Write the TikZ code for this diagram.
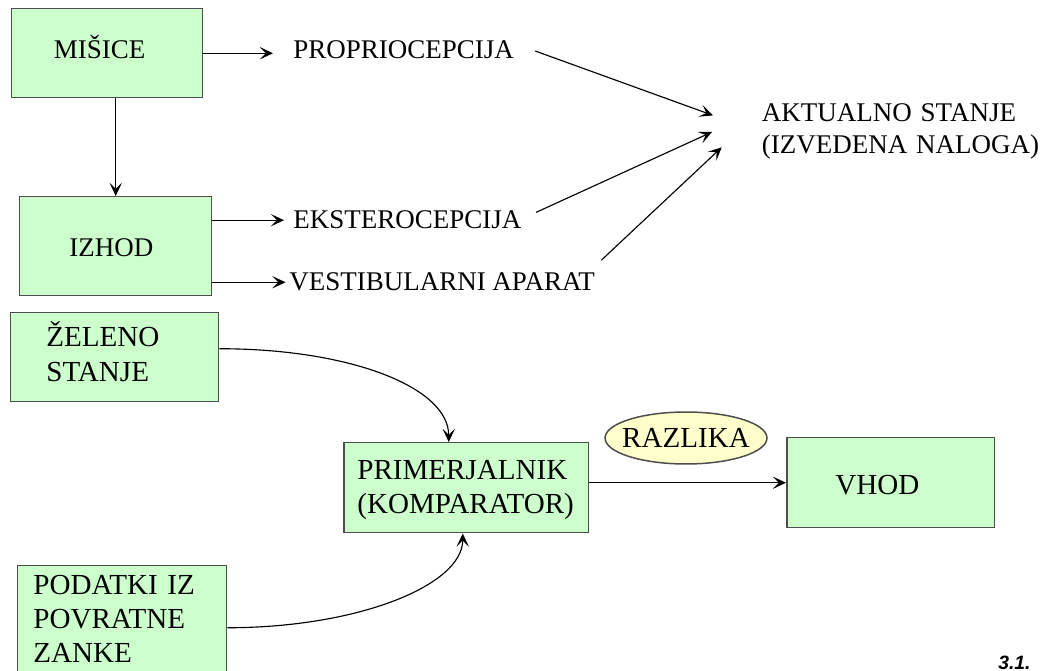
\documentclass[tikz,border=0pt]{standalone}
\usepackage{fontspec}
\setmainfont{Liberation Serif}
\setsansfont{Liberation Sans}
\usetikzlibrary{arrows.meta,shapes.geometric}
\definecolor{boxfill}{HTML}{CCFFCC}
\definecolor{ovalfill}{HTML}{FFFFCC}
\definecolor{edge}{HTML}{4D4D4D}
\begin{document}
\begin{tikzpicture}[x=0.02cm,y=-0.02cm,
  box/.style={draw=edge, fill=boxfill, line width=0.85pt, inner sep=0pt, anchor=north west},
  toptext/.style={inner sep=0pt, anchor=base west, font=\fontsize{15.36}{18.1}\selectfont},
  lowtext/.style={inner sep=0pt, anchor=base west, font=\fontsize{16.55}{19.45}\selectfont},
  arr/.style={draw=black, line width=0.65pt, -{Stealth[length=7.5pt,width=7pt,inset=3.5pt]}}
]
\useasboundingbox (0,0) rectangle (1043,671);
\clip (0,0) rectangle (1043,671);

% boxes
\node[box, minimum width=3.822cm, minimum height=1.78cm] (mis) at (10.7,8) {};
\node[box, minimum width=3.84cm, minimum height=1.98cm] (izh) at (19,196) {};
\node[box, minimum width=4.16cm, minimum height=1.78cm] (zel) at (10,312) {};
\node[box, minimum width=4.18cm, minimum height=2.2cm] (pod) at (17,565) {};
\node[box, minimum width=4.9cm, minimum height=1.8cm] (prim) at (343,442) {};
\node[box, minimum width=4.16cm, minimum height=1.8cm] (vhod) at (786,437) {};

% upper labels
\node[toptext] (misl) at (53.6,59) {MIŠICE};
\node[toptext] (prop) at (293,59) {PROPRIOCEPCIJA};
\node[toptext] (izhl) at (69,257) {IZHOD};
\node[toptext] (eks) at (293,229) {EKSTEROCEPCIJA};
\node[toptext] (ves) at (289,291) {VESTIBULARNI APARAT};
\node[toptext, text width=5.58cm, align=left] (akt) at (761.5,122) {AKTUALNO STANJE\\(IZVEDENA NALOGA)};

% lower labels
\node[lowtext, text width=2.72cm, align=left] (zell) at (46,347) {ŽELENO\\STANJE};
\node[lowtext, text width=3.54cm, align=left] (podl) at (33,594) {PODATKI IZ\\POVRATNE\\ZANKE};
\node[lowtext, text width=4.6cm, align=left] (priml) at (357,479) {PRIMERJALNIK\\(KOMPARATOR)};
\node[lowtext] (vhodl) at (835,494) {VHOD};
\node[draw=edge, fill=ovalfill, ellipse, line width=0.85pt, inner ysep=0pt, inner xsep=-0.4cm,
      minimum width=3.24cm, minimum height=1.04cm,
      font=\fontsize{16.55}{19.45}\selectfont] (raz) at (686,438) {RAZLIKA};

% upper connectors
\draw[arr] (mis.south -| izh.north) -- (izh.north);
\draw[arr, shorten >=0.4cm] (mis.east) -- (mis.east -| prop.west);
\draw[arr, shorten >=0.18cm] (izh.east |- eks.west) -- (eks.west);
\draw[arr, shorten >=0.07cm] (izh.east |- ves.west) -- (ves.west);

\coordinate (t1) at ([shift={(-48.5,-6.6)}]akt.base west);
\coordinate (t2) at ([shift={(-49.5,10)}]akt.base west);
\coordinate (t3) at ([shift={(-39.8,25.3)}]akt.base west);
\draw[arr] ([shift={(21,-8)}]prop.base east) -- (t1);
\draw[arr] ([shift={(14.4,-16.6)}]eks.base east) -- (t2);
\draw[arr] ([shift={(6,-30.8)}]ves.base east) -- (t3);

% lower connectors
\draw[arr] ([shift={(0,-8.5)}]zel.east) .. controls +(130,0) and +(0,-55) .. ([shift={(-17.5,0)}]prim.north);
\draw[arr] ([shift={(0,7)}]pod.east) .. controls +(130,0) and +(0,52) .. ([shift={(-3.5,0)}]prim.south);
\draw[arr] (prim.east |- vhod.west) -- (vhod.west);

% figure number
\node[inner sep=0pt, anchor=base west, font=\sffamily\bfseries\itshape\fontsize{11}{13}\selectfont] (fignum) at (998,669) {3.1.};
\end{tikzpicture}
\end{document}
